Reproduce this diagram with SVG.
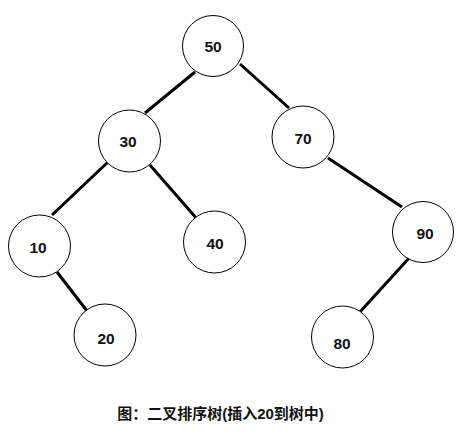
<svg xmlns="http://www.w3.org/2000/svg" width="471" height="446" viewBox="0 0 471 446">
<style>
.n circle{fill:#fff;stroke:#000;stroke-width:1}
.n text{font-family:"Liberation Sans",Arial,sans-serif;font-weight:bold;font-size:15.5px;fill:#111;text-anchor:middle;dominant-baseline:central}
#edges line{stroke:#000;stroke-width:3;stroke-linecap:butt}
.cap{font-family:"Liberation Sans","Noto Sans CJK SC",sans-serif;font-weight:bold;font-size:15px;fill:#111;text-anchor:middle}
</style>
<rect width="471" height="446" fill="#fff"/>
<g id="edges">
<line x1="195" y1="72" x2="145" y2="113"/>
<line x1="240" y1="64" x2="289" y2="108"/>
<line x1="108" y1="162" x2="52" y2="215"/>
<line x1="150" y1="165" x2="197" y2="219"/>
<line x1="57" y1="272" x2="87" y2="311"/>
<line x1="328" y1="158" x2="402" y2="207"/>
<line x1="410" y1="257" x2="359" y2="313"/>
</g>
<g id="n50" class="n"><circle cx="213" cy="46" r="30.5"/><text x="213" y="46">50</text></g>
<g id="n30" class="n"><circle cx="129.5" cy="141" r="31"/><text x="128" y="141">30</text></g>
<g id="n70" class="n"><circle cx="303" cy="137" r="31"/><text x="303" y="138">70</text></g>
<g id="n10" class="n"><circle cx="39.5" cy="246" r="31"/><text x="38" y="247">10</text></g>
<g id="n40" class="n"><circle cx="214.5" cy="242" r="31"/><text x="215" y="243">40</text></g>
<g id="n90" class="n"><circle cx="423" cy="232" r="30.5"/><text x="425" y="233">90</text></g>
<g id="n20" class="n"><circle cx="105" cy="335" r="31"/><text x="106" y="338">20</text></g>
<g id="n80" class="n"><circle cx="342.5" cy="337" r="31"/><text x="342" y="343">80</text></g>
<text class="cap" x="220.5" y="419">图：二叉排序树(插入20到树中)</text>
</svg>
